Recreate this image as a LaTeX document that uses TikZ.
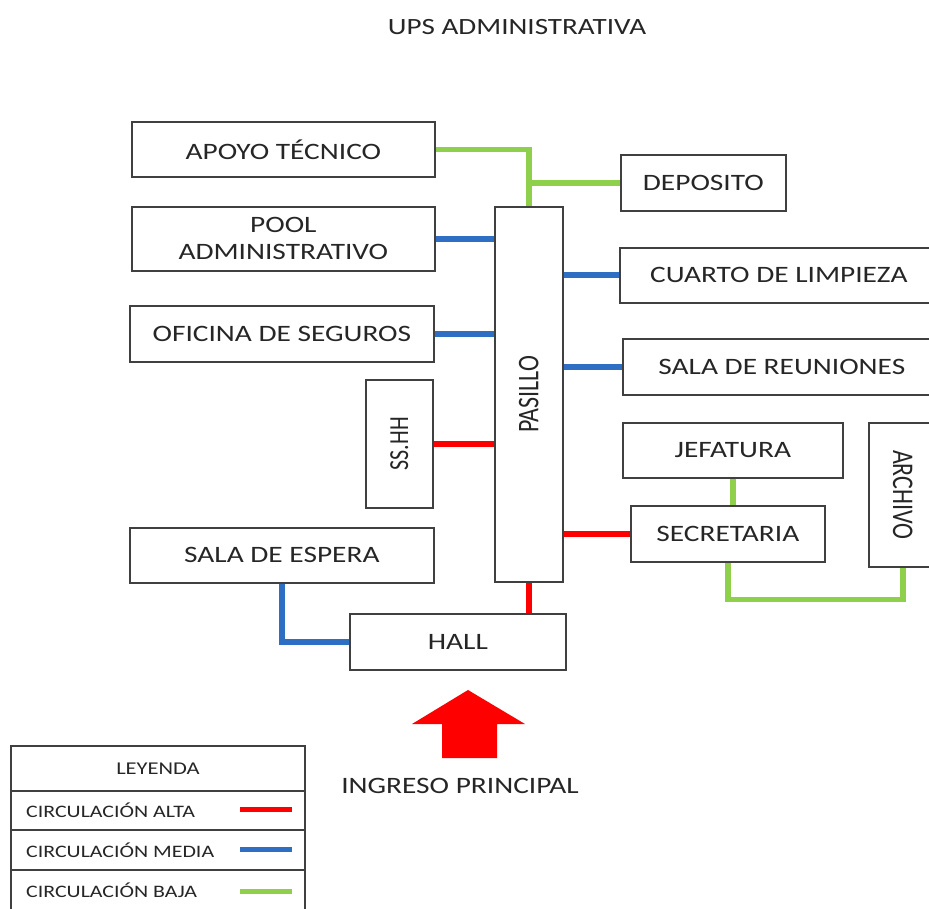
\documentclass[tikz,border=0pt]{standalone}
\usepackage{fontspec}
\usetikzlibrary{calc}
\setmainfont{Carlito}[FakeStretch=1.25]
\newfontfamily\plainfont{Carlito}
\definecolor{boxgray}{HTML}{404040}
\definecolor{txtgray}{HTML}{262626}
\definecolor{altared}{HTML}{FF0000}
\definecolor{mediablue}{HTML}{2E6FC4}
\definecolor{bajagreen}{HTML}{8ED04C}
\begin{document}
\begin{tikzpicture}[x=1pt,y=-1pt,
  room/.style={draw=boxgray, line width=1.7pt, inner sep=0pt, align=center,
    text=txtgray, font=\fontsize{23.5}{27}\selectfont, anchor=north west},
  alta/.style={draw=altared, line width=6pt},
  media/.style={draw=mediablue, line width=6pt},
  baja/.style={draw=bajagreen, line width=5.5pt},
  lbl/.style={text=txtgray, font=\fontsize{23.5}{27}\selectfont, inner sep=0pt},
  vlbl/.style={text=txtgray, inner sep=0pt},
  legtxt/.style={text=txtgray, font=\fontsize{17.5}{20}\selectfont, inner sep=0pt, anchor=west},
  legrule/.style={draw=boxgray, line width=1.6pt}]
\useasboundingbox (0,0) rectangle (929,909);
\clip (0,0) rectangle (929,909);
\fill[white] (0,0) rectangle (929,909);

% title
\node[lbl, font=\fontsize{23.3}{27}\selectfont] (title) at (517,27) {UPS ADMINISTRATIVA};

% rooms
\node[room, minimum width=303pt, minimum height=55pt] (apoyo) at (131,121) {APOYO TÉCNICO};
\node[room, minimum width=303pt, minimum height=64pt] (pool) at (131,206) {POOL\\ADMINISTRATIVO};
\node[room, minimum width=304pt, minimum height=56pt] (oficina) at (129,305) {OFICINA DE SEGUROS};
\node[room, minimum width=67pt, minimum height=128pt] (sshh) at (365,379) {};
\node[vlbl, rotate=90] at (sshh.center) {\plainfont\fontsize{22}{26}\selectfont\scalebox{1}[1.25]{SS.HH}};
\node[room, minimum width=68pt, minimum height=375pt] (pasillo) at (494,206) {};
\node[vlbl, rotate=90] at (pasillo.center) {\plainfont\fontsize{24}{28}\selectfont\scalebox{1}[1.25]{PASILLO}};
\node[room, minimum width=304pt, minimum height=55pt] (espera) at (129,527) {SALA DE ESPERA};
\node[room, minimum width=216pt, minimum height=56pt] (hall) at (349,613) {HALL};

\node[room, minimum width=165pt, minimum height=56pt] (deposito) at (620,154) {DEPOSITO};
\node[room, minimum width=318pt, minimum height=55pt] (cuarto) at (619,247) {CUARTO DE LIMPIEZA};
\node[room, minimum width=318pt, minimum height=56pt] (reuniones) at (622,338) {SALA DE REUNIONES};
\node[room, minimum width=220pt, minimum height=55pt] (jefatura) at (622,422) {JEFATURA};
\node[room, minimum width=194pt, minimum height=56pt] (secretaria) at (630,505) {SECRETARIA};
\node[room, minimum width=68pt, minimum height=144pt] (archivo) at (868,422) {};
\node[vlbl, rotate=-90] at (archivo.center) {\plainfont\fontsize{24}{28}\selectfont\scalebox{1}[1.25]{ARCHIVO}};

% connectors
\draw[baja] (apoyo.east) -| (pasillo.north);
\draw[baja] (pasillo.north |- deposito.west) -- (deposito.west);
\draw[media] (pool.east) -- (pool.east -| pasillo.west);
\draw[media] (oficina.east) -- (oficina.east -| pasillo.west);
\draw[alta] (sshh.east) -- (sshh.east -| pasillo.west);
\draw[media] (cuarto.west -| pasillo.east) -- (cuarto.west);
\draw[media] (reuniones.west -| pasillo.east) -- (reuniones.west);
\draw[alta] (secretaria.west -| pasillo.east) -- (secretaria.west);
\draw[baja] (jefatura.south) -- (jefatura.south |- secretaria.north);
\coordinate (secbend) at ($(secretaria.south)+(0,37)$);
\draw[baja] (secretaria.south) -- (secbend) -| (archivo.south);
\draw[alta] (pasillo.south) -- (pasillo.south |- hall.north);
\draw[media] (espera.south) |- (hall.west);

% entrance arrow
\fill[altared] (468,690) -- (525,724) -- (497,724) -- (497,758) -- (442,758) -- (442,724) -- (412,724) -- cycle;
\node[lbl] (ingreso) at (460,786) {INGRESO PRINCIPAL};

% legend
\draw[legrule] (11,915) -- (11,746) -- (305,746) -- (305,915);
\draw[legrule] (11,791) -- (305,791);
\draw[legrule] (11,830) -- (305,830);
\draw[legrule] (11,870) -- (305,870);
\node[legtxt, anchor=center, font=\fontsize{18}{20}\selectfont] (leyenda) at (158,769) {LEYENDA};
\node[legtxt] (lalta) at (26,810) {CIRCULACIÓN ALTA};
\node[legtxt] (lmedia) at (26,850) {CIRCULACIÓN MEDIA};
\node[legtxt] (lbaja) at (26,890) {CIRCULACIÓN BAJA};
\draw[altared, line width=5pt] (240,809) -- (292,809);
\draw[mediablue, line width=5pt] (240,849) -- (292,849);
\draw[bajagreen, line width=5pt] (240,891) -- (292,891);
\end{tikzpicture}
\end{document}
